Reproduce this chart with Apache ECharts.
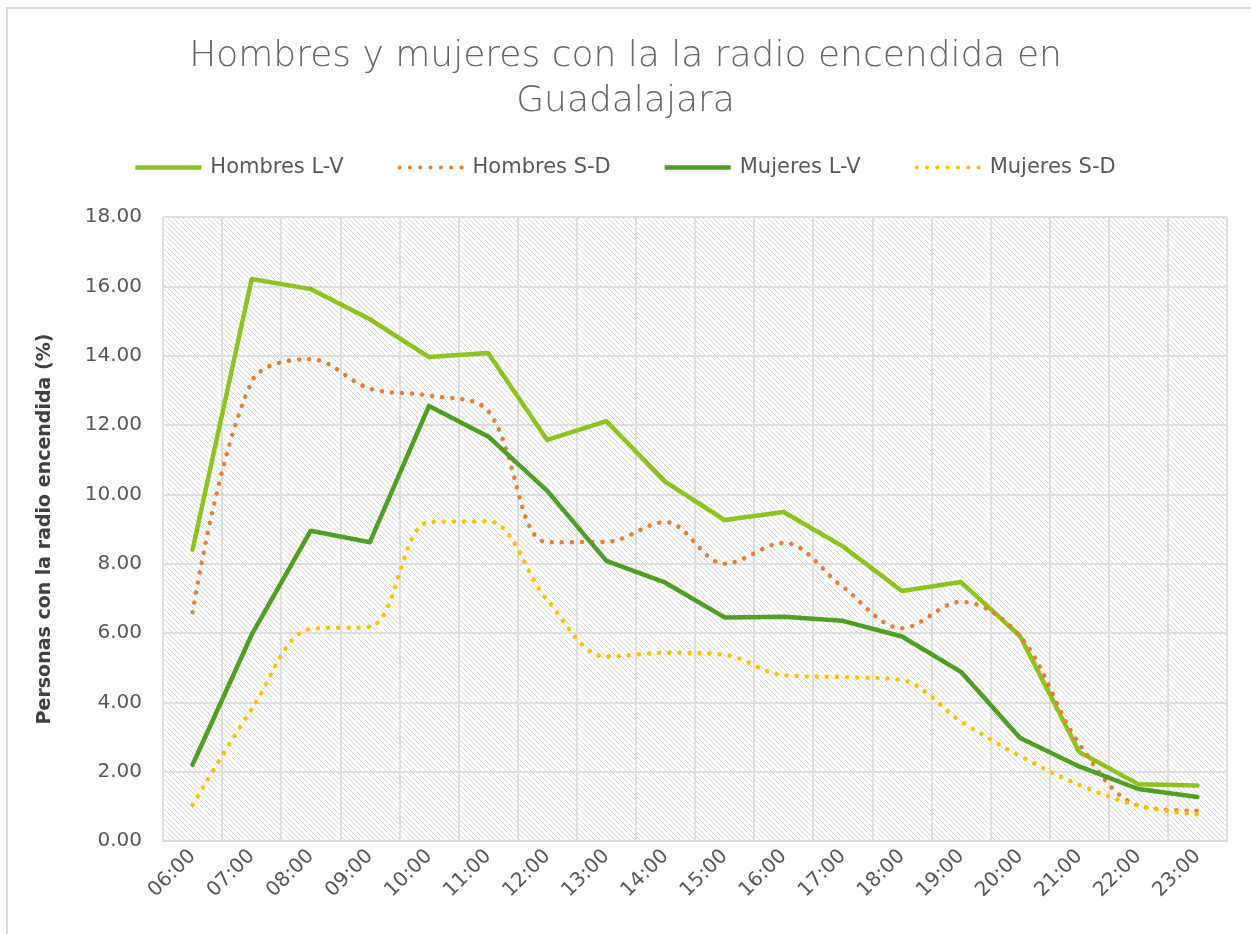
<!DOCTYPE html>
<html>
<head>
<meta charset="utf-8">
<script src="https://cdn.jsdelivr.net/npm/echarts@6/dist/echarts.min.js"></script>
<style>
  html, body { margin: 0; padding: 0; background: #fff; }
  #chart { width: 1251px; height: 934px; }
</style>
</head>
<body>
<div id="chart"></div>
<script>
// horas del dia
const hours = ['06:00', '07:00', '08:00', '09:00', '10:00', '11:00', '12:00', '13:00', '14:00',
  '15:00', '16:00', '17:00', '18:00', '19:00', '20:00', '21:00', '22:00', '23:00'];

const hombresLV = [8.4, 16.21, 15.92, 15.05, 13.96, 14.08, 11.57, 12.11, 10.36, 9.26, 9.49, 8.5, 7.21, 7.47, 5.91, 2.57, 1.64, 1.6];
const hombresSD = [6.6, 13.25, 13.9, 13.05, 12.85, 12.4, 8.62, 8.63, 9.2, 8.0, 8.6, 7.33, 6.14, 6.9, 5.91, 2.8, 1.02, 0.87];
const mujeresLV = [2.2, 5.95, 8.95, 8.62, 12.55, 11.67, 10.1, 8.08, 7.45, 6.45, 6.47, 6.35, 5.9, 4.88, 2.97, 2.15, 1.5, 1.27];
const mujeresSD = [1.04, 3.8, 6.12, 6.18, 9.2, 9.22, 6.95, 5.32, 5.43, 5.37, 4.78, 4.73, 4.64, 3.45, 2.45, 1.62, 1.02, 0.76];

const yTicks = { min: 0, max: 18, step: 2 };

// fondo rayado del area de trazado
const pat = document.createElement('canvas');
pat.width = 5; pat.height = 5;
const pctx = pat.getContext('2d');
pctx.fillStyle = '#ffffff';
pctx.fillRect(0, 0, 5, 5);
pctx.strokeStyle = '#d9d9d9';
pctx.lineWidth = 1;
[-5, 0, 5].forEach(k => {
  pctx.beginPath();
  pctx.moveTo(k - 1, -1);
  pctx.lineTo(k + 6, 6);
  pctx.stroke();
});

// icono de puntos para la leyenda
let dots = 'path://';
for (let i = 0; i < 7; i++) {
  const cx = 0.5 + i * 2.5;
  dots += 'M' + (cx - 0.5) + ' 0.5a0.5 0.5 0 1 0 1 0a0.5 0.5 0 1 0 -1 0Z';
}

const font = '"DejaVu Sans", sans-serif';
const grey = '#595959';

const chart = echarts.init(document.getElementById('chart'));

function solid(name, data, color) {
  return {
    name: name, type: 'line', data: data, symbol: 'none',
    lineStyle: { color: color, width: 4.5, cap: 'round', join: 'round' },
    itemStyle: { color: color },
    z: 3
  };
}
function dotted(name, data, color) {
  return {
    name: name, type: 'line', data: data, symbol: 'none', smooth: 0.35,
    lineStyle: { color: color, width: 4.5, type: [0.1, 10], cap: 'round' },
    itemStyle: { color: color },
    z: 3
  };
}

chart.setOption({
  animation: false,
  backgroundColor: '#ffffff',
  textStyle: { fontFamily: font },
  title: {
    text: 'Hombres y mujeres con la la radio encendida en\nGuadalajara',
    left: 'center',
    top: 29,
    textStyle: { color: '#666666', fontSize: 36, fontWeight: 'lighter', fontFamily: font, lineHeight: 45 }
  },
  legend: {
    top: 152,
    left: 'center',
    itemWidth: 66,
    itemHeight: 4.5,
    itemGap: 54,
    data: [
      { name: 'Hombres L-V', icon: 'rect' },
      { name: 'Hombres S-D', icon: dots },
      { name: 'Mujeres L-V', icon: 'rect' },
      { name: 'Mujeres S-D', icon: dots }
    ],
    textStyle: { color: grey, fontSize: 21, fontFamily: font, padding: [0, 0, 0, 4] }
  },
  graphic: [{
    type: 'rect',
    shape: { x: 7, y: 8, width: 1400, height: 1100 },
    style: { fill: null, stroke: '#d9d9d9', lineWidth: 2 },
    silent: true
  }],
  grid: {
    left: 163, top: 217, right: 24, bottom: 93,
    show: true,
    borderWidth: 0,
    backgroundColor: { image: pat, repeat: 'repeat' }
  },
  xAxis: {
    type: 'category',
    data: hours,
    boundaryGap: true,
    axisLine: { lineStyle: { color: '#d9d9d9', width: 2 } },
    axisTick: { show: false },
    splitLine: { show: true, lineStyle: { color: '#dedede', width: 2 } },
    axisLabel: { rotate: 45, color: grey, fontSize: 20, margin: 12, fontFamily: font, interval: 0 }
  },
  yAxis: {
    type: 'value',
    min: yTicks.min, max: yTicks.max, interval: yTicks.step,
    name: 'Personas con la radio encendida (%)',
    nameLocation: 'middle',
    nameGap: 108,
    nameTextStyle: { color: '#404040', fontSize: 19, fontWeight: 'bold', fontFamily: font },
    axisLine: { show: false },
    axisTick: { show: false },
    splitLine: { lineStyle: { color: '#dedede', width: 2 } },
    axisLabel: {
      color: grey, fontSize: 20, margin: 21, fontFamily: font,
      formatter: v => v.toFixed(2)
    }
  },
  series: [
    solid('Hombres L-V', hombresLV, '#8dc21f'),
    dotted('Hombres S-D', hombresSD, '#ed7d31'),
    solid('Mujeres L-V', mujeresLV, '#4e9f24'),
    dotted('Mujeres S-D', mujeresSD, '#ffc000')
  ]
});
</script>
</body>
</html>
